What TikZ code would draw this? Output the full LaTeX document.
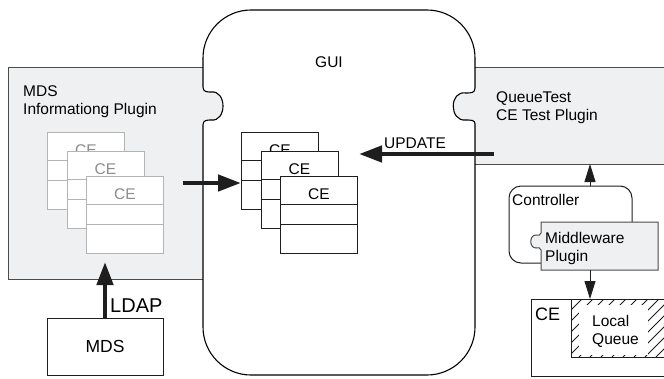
\documentclass[tikz,border=0pt]{standalone}
\usepackage{fontspec}
\setmainfont{Liberation Sans}
\usetikzlibrary{arrows.meta}

\definecolor{plugfill}{RGB}{239,240,242}
\definecolor{plugedge}{RGB}{75,75,75}
\definecolor{faintedge}{RGB}{180,180,180}
\definecolor{fainttext}{RGB}{140,140,140}
\definecolor{inkline}{RGB}{30,30,30}

\begin{document}
\begin{tikzpicture}[x=1pt,y=-1pt,
  lbl/.style={inner sep=0pt, anchor=base west, font=\fontsize{15.5}{18}\selectfont},
  celbl/.style={inner sep=0pt, anchor=base, font=\fontsize{15.5}{18}\selectfont},
  cebox/.style={draw=inkline, line width=1pt, fill=white, inner sep=0pt,
    minimum width=77pt, minimum height=77pt, anchor=north west},
  faintbox/.style={cebox, draw=faintedge},
  edgeline/.style={draw=plugedge, line width=1pt},
  guiline/.style={draw=black, line width=1.1pt},
  thickarrow/.style={draw=inkline, line width=4.5pt, -{Triangle[length=23pt,width=16pt]}},
  thinarrow/.style={draw=inkline, line width=1pt, -{Triangle[length=18pt,width=11pt]}},
  hatchline/.style={draw=inkline, line width=0.8pt}]

\useasboundingbox (0,0) rectangle (664,378);
\begin{scope}
\clip (0,0) rectangle (664,378);

% ---- MDS information plugin (grey panel with tab into the GUI)
\fill[plugfill] (8,67) rectangle (203,279);
\fill[plugfill] (203,125) .. controls (203,120) and (207,120) .. (211,120)
  .. controls (227,122) and (227,90) .. (211,92)
  .. controls (207,92) and (203,92) .. (203,87) -- cycle;
\draw[edgeline] (203,67) -- (8,67) -- (8,279) -- (203,279);

% ---- QueueTest plugin (grey panel with tab into the GUI)
\fill[plugfill] (475,67) rectangle (672,164);
\fill[plugfill] (475,88) .. controls (475,93) and (471,93) .. (466,93)
  .. controls (449,90) and (449,122) .. (466,120)
  .. controls (471,120) and (475,120) .. (475,124) -- cycle;
\draw[edgeline] (475,67) -- (672,67);
\draw[edgeline] (475,164) -- (672,164);

% ---- GUI outline
\draw[guiline] (203,58) .. controls (203,31.5) and (224.5,10) .. (251,10)
  -- (427,10) .. controls (453.5,10) and (475,31.5) .. (475,58)
  -- (475,88) .. controls (475,93) and (471,93) .. (466,93)
  .. controls (449,90) and (449,122) .. (466,120)
  .. controls (471,120) and (475,120) .. (475,124)
  -- (475,327) .. controls (475,353.5) and (453.5,375) .. (427,375)
  -- (251,375) .. controls (224.5,375) and (203,353.5) .. (203,327)
  -- (203,125) .. controls (203,120) and (207,120) .. (211,120)
  .. controls (227,122) and (227,90) .. (211,92)
  .. controls (207,92) and (203,92) .. (203,87) -- cycle;
\node[celbl] (guilbl) at (329,67) {GUI};

% ---- labels of the plugin panels
\node[lbl] (mdsname) at (23,96) {MDS};
\node[lbl] (mdsplug) at (23,114) {Informationg Plugin};
\node[lbl] (qtname) at (496,102) {QueueTest};
\node[lbl] (qtplug) at (496,120) {CE Test Plugin};

% ---- faint CE records inside the MDS plugin
\foreach \n/\x/\y in {m1/47/132, m2/66.5/151, m3/86/176}{
  \node[faintbox] (\n) at (\x,\y) {};
  \draw[faintedge, line width=1pt] ([yshift=-28pt]\n.north west) -- ([yshift=-28pt]\n.north east);
  \draw[faintedge, line width=1pt] ([yshift=-48pt]\n.north west) -- ([yshift=-48pt]\n.north east);
  \node[celbl, text=fainttext] at ([yshift=-23pt]\n.north) {CE};
}

% ---- CE records inside the GUI
\foreach \n/\x/\y in {g1/241/132, g2/260.5/151, g3/280/176}{
  \node[cebox] (\n) at (\x,\y) {};
  \draw[inkline, line width=1pt] ([yshift=-28pt]\n.north west) -- ([yshift=-28pt]\n.north east);
  \draw[inkline, line width=1pt] ([yshift=-48pt]\n.north west) -- ([yshift=-48pt]\n.north east);
  \node[celbl] at ([yshift=-23pt]\n.north) {CE};
}

% ---- MDS server and LDAP link
\node[draw=inkline, line width=1pt, minimum width=116pt, minimum height=57pt, inner sep=0pt,
  font=\fontsize{17.5}{20}\selectfont] (mds) at (105,346.5) {\raisebox{-2pt}{MDS}};
\coordinate (ldaptip) at (105,262);
\draw[thickarrow] (mds.north) -- (mds.north |- ldaptip);
\node[inner sep=0pt, anchor=base west, font=\fontsize{20}{24}\selectfont] (ldap) at (110,312) {LDAP};

% ---- transfer of records to the GUI
\coordinate (mdsout) at (183,183);
\draw[thickarrow] (mdsout) -- (g1.west |- mdsout);

% ---- UPDATE from the test plugin
\coordinate (qtout) at (494,154);
\coordinate (updtip) at (359,154);
\draw[thickarrow] (qtout) -- (updtip);
\node[lbl] (updlbl) at (384,148) {UPDATE};

% ---- Controller with its middleware plugin
\draw[inkline, line width=1pt, rounded corners=12pt]
  (541,263) -- (509,263) -- (509,186) -- (632,186) -- (632,222);
\node[lbl] (ctrl) at (512,205) {Controller};
\filldraw[fill=plugfill, edgeline] (541,222) -- (658,222) -- (658,270) -- (541,270)
  -- (541,250) .. controls (541,247) and (538,248) .. (536,248)
  .. controls (529,248) and (529,235) .. (536,235)
  .. controls (538,235) and (541,236) .. (541,233) -- cycle;
\node[lbl] (mwname) at (545,243) {Middleware};
\node[lbl] (mwplug) at (545,261) {Plugin};

\coordinate (ctrltop) at (590,186);
\coordinate (qtbot) at (590,164);
\draw[thinarrow] (ctrltop) -- (qtbot);

% ---- CE with its local queue
\draw[inkline, line width=1pt] (672,299) -- (531,299) -- (531,376) -- (672,376);
\node[inner sep=0pt, anchor=base west, font=\fontsize{18}{21}\selectfont] (cename) at (535,320) {CE};
\begin{scope}
  \clip (571,299) rectangle (672,357);
  \foreach \x in {513,524,...,680}{
    \draw[hatchline] (\x,357) -- ++(58,-58);
  }
\end{scope}
\fill[white] (579,305) rectangle (648,355);
\draw[inkline, line width=1pt] (672,299) -- (571,299) -- (571,357) -- (672,357);
\node[lbl] (lqa) at (592,326) {Local};
\node[lbl] (lqb) at (592,344) {Queue};

\coordinate (mwbot) at (590,270);
\coordinate (cetop) at (590,299);
\draw[thinarrow] (mwbot) -- (cetop);

\end{scope}
\end{tikzpicture}
\end{document}
